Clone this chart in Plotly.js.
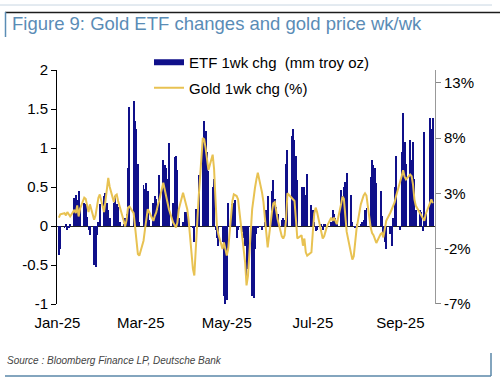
<!DOCTYPE html>
<html>
<head>
<meta charset="utf-8">
<script src="https://cdn.plot.ly/plotly-3.0.1.min.js"></script>
<style>html,body{margin:0;padding:0;background:#fff;}#chart{width:500px;height:385px;}</style>
</head>
<body>
<div id="chart"></div>
<script>
// Trading days (x values)
const dates = [
"2025-01-02","2025-01-03","2025-01-06","2025-01-07","2025-01-08","2025-01-09","2025-01-10","2025-01-13","2025-01-14","2025-01-15","2025-01-16","2025-01-17","2025-01-20","2025-01-21","2025-01-22","2025-01-23","2025-01-24","2025-01-27","2025-01-28","2025-01-29","2025-01-30","2025-01-31",
"2025-02-03","2025-02-04","2025-02-05","2025-02-06","2025-02-07","2025-02-10","2025-02-11","2025-02-12","2025-02-13","2025-02-14","2025-02-17","2025-02-18","2025-02-19","2025-02-20","2025-02-21","2025-02-24","2025-02-25","2025-02-26","2025-02-27","2025-02-28",
"2025-03-03","2025-03-04","2025-03-05","2025-03-06","2025-03-07","2025-03-10","2025-03-11","2025-03-12","2025-03-13","2025-03-14","2025-03-17","2025-03-18","2025-03-19","2025-03-20","2025-03-21","2025-03-24","2025-03-25","2025-03-26","2025-03-27","2025-03-28","2025-03-31",
"2025-04-01","2025-04-02","2025-04-03","2025-04-04","2025-04-07","2025-04-08","2025-04-09","2025-04-10","2025-04-11","2025-04-14","2025-04-15","2025-04-16","2025-04-17","2025-04-18","2025-04-21","2025-04-22","2025-04-23","2025-04-24","2025-04-25","2025-04-28","2025-04-29","2025-04-30",
"2025-05-01","2025-05-02","2025-05-05","2025-05-06","2025-05-07","2025-05-08","2025-05-09","2025-05-12","2025-05-13","2025-05-14","2025-05-15","2025-05-16","2025-05-19","2025-05-20","2025-05-21","2025-05-22","2025-05-23","2025-05-26","2025-05-27","2025-05-28","2025-05-29","2025-05-30",
"2025-06-02","2025-06-03","2025-06-04","2025-06-05","2025-06-06","2025-06-09","2025-06-10","2025-06-11","2025-06-12","2025-06-13","2025-06-16","2025-06-17","2025-06-18","2025-06-19","2025-06-20","2025-06-23","2025-06-24","2025-06-25","2025-06-26","2025-06-27","2025-06-30",
"2025-07-01","2025-07-02","2025-07-03","2025-07-04","2025-07-07","2025-07-08","2025-07-09","2025-07-10","2025-07-11","2025-07-14","2025-07-15","2025-07-16","2025-07-17","2025-07-18","2025-07-21","2025-07-22","2025-07-23","2025-07-24","2025-07-25","2025-07-28","2025-07-29","2025-07-30","2025-07-31",
"2025-08-01","2025-08-04","2025-08-05","2025-08-06","2025-08-07","2025-08-08","2025-08-11","2025-08-12","2025-08-13","2025-08-14","2025-08-15","2025-08-18","2025-08-19","2025-08-20","2025-08-21","2025-08-22","2025-08-25","2025-08-26","2025-08-27","2025-08-28","2025-08-29",
"2025-09-01","2025-09-02","2025-09-03","2025-09-04","2025-09-05","2025-09-08","2025-09-09","2025-09-10","2025-09-11","2025-09-12","2025-09-15","2025-09-16","2025-09-17","2025-09-18","2025-09-19","2025-09-22","2025-09-23","2025-09-24"
];

// ETF 1wk change (mm troy oz), left axis
const etfChg = [
-0.37,-0.30,-0.02,0.02,-0.05,-0.03,0.03,0.36,0.40,0.33,0.45,0.25,0.30,0.28,0.12,-0.05,-0.12,-0.50,-0.53,-0.12,0.05,0.28,
0.38,0.42,0.30,0.20,0.10,0.30,0.38,0.28,0.25,0.05,0.03,0.10,0.15,0.74,1.53,1.60,1.35,1.25,0.80,0.05,
0.52,0.48,0.55,0.45,0.08,0.30,0.38,0.35,0.20,0.65,0.85,0.78,0.75,0.60,1.07,0.30,0.88,0.90,0.72,0.10,0.05,
0.18,0.18,0.15,0.00,-0.02,-0.20,0.22,0.05,0.65,1.10,1.35,1.22,0.95,0.70,0.50,0.60,-0.05,-0.15,-0.25,-0.20,-0.90,-1.00,
-0.95,0.30,0.28,0.30,0.33,-0.15,-0.05,-0.08,-0.15,-0.25,-0.75,-0.55,-0.90,-0.92,-0.30,-0.10,-0.03,-0.05,0.00,0.05,0.20,0.38,
0.45,0.59,0.35,0.25,0.15,0.08,0.10,0.08,0.80,0.97,1.15,1.25,1.10,0.90,0.59,0.50,0.45,0.50,0.40,0.67,0.27,
0.20,0.05,-0.07,-0.05,0.02,-0.05,0.02,0.03,0.00,0.05,0.20,0.15,0.10,0.02,0.46,0.38,0.50,0.57,0.68,0.40,0.05,0.00,-0.02,
0.02,0.03,0.05,0.08,0.20,0.23,0.63,0.85,0.78,0.75,0.55,0.45,0.13,-0.10,-0.20,-0.30,-0.10,-0.25,0.10,0.50,0.90,
-0.05,0.95,1.45,1.08,0.80,1.10,0.85,1.08,0.60,0.20,0.20,0.18,-0.07,1.20,0.15,1.38,1.25,1.38
];

// Gold 1wk change (%), right axis
const goldChg = [
0.8,1.1,1.2,1.0,1.3,1.1,0.9,1.5,1.2,1.9,0.9,1.6,2.6,2.5,2.0,1.3,2.0,0.6,1.0,1.7,2.6,2.9,
1.3,2.3,3.4,4.4,3.6,2.2,2.8,2.9,2.3,1.9,0.5,0.0,0.6,1.7,1.8,1.2,-0.3,-1.4,-2.5,-2.65,
-1.3,-0.3,0.5,1.56,1.3,0.5,0.96,1.26,1.86,2.3,3.96,3.36,2.6,2.15,1.56,0.35,0.05,-0.1,0.35,1.56,3.06,
2.6,2.15,1.56,0.5,-3.85,-4.45,-2.05,-0.25,2.5,8.0,7.9,7.1,5.9,5.1,6.5,5.2,2.45,0.05,-0.7,-2.05,-1.45,-2.05,
-2.65,-2.05,2.3,2.9,2.8,2.75,2.45,-0.9,-1.9,-3.25,-5.35,-4.5,1.56,2.75,3.5,4.26,4.86,3.06,2.2,0.8,-0.6,-1.9,
1.3,2.1,2.2,1.4,0.66,-0.9,-1.1,-0.8,0.6,3.0,2.6,2.45,2.3,0.66,-1.1,-0.8,-1.75,-1.1,-2.35,-2.65,-2.35,
-0.5,1.15,1.7,1.3,-0.5,-1.1,-0.9,-0.5,0.0,0.8,0.5,0.8,0.5,0.2,2.0,2.7,2.5,1.0,-0.5,-2.4,-3.0,-2.7,-1.6,
-0.2,2.0,2.5,2.8,3.0,2.8,-0.1,-0.6,-0.8,-1.1,-1.5,-0.7,-0.6,-1.0,-0.25,0.5,1.26,1.56,1.86,2.2,2.75,
4.0,4.56,5.1,4.5,4.26,4.7,4.55,3.8,2.45,1.86,1.2,1.0,0.8,0.5,1.1,2.15,2.45,2.1
];

// Axis ticks
const leftTickVals = [-1,-0.5,0,0.5,1,1.5,2];
const leftTickText = ["-1","-0.5","0","0.5","1","1.5","2"];
const rightTickVals = [-7,-2,3,8,13];
const rightTickText = ["-7%","-2%","3%","8%","13%"];
const xTickVals = ["2025-01-01","2025-03-01","2025-05-01","2025-07-01","2025-09-01"];
const xTickText = ["Jan-25","Mar-25","May-25","Jul-25","Sep-25"];

const titleText = "Figure 9: Gold ETF changes and gold price wk/wk";
const sourceText = "Source : Bloomberg Finance LP, Deutsche Bank";
const etfName = "ETF 1wk chg \u00a0(mm troy oz)";
const goldName = "Gold 1wk chg (%)";

// ---- styling / layout ----
const W = 500, H = 385;
const M = {l:57, r:65, t:70, b:81};
const PW = W - M.l - M.r, PH = H - M.t - M.b;
const xp = px => (px - M.l) / PW;
const yp = py => (H - M.b - py) / PH;

const NAVY = "#10108a";
const GOLD = "#e8c252";
const FONT = "Liberation Sans, Arial, Helvetica, sans-serif";

const traces = [
  {
    type: "bar", x: dates, y: etfChg, name: etfName,
    marker: {color: NAVY, line: {width: 0}},
    width: 86400000 * 1.35,
    showlegend: false, legendgroup: "etf", hoverinfo: "x+y"
  },
  {
    // legend key for the ETF bars (wide bar-style swatch)
    type: "scatter", mode: "lines", x: [null], y: [null], name: etfName,
    line: {color: NAVY, width: 6}, legendgroup: "etf", showlegend: true, hoverinfo: "skip"
  },
  {
    type: "scatter", mode: "lines", x: dates, y: goldChg, name: goldName,
    yaxis: "y2", line: {color: GOLD, width: 2},
    legendgroup: "gold", showlegend: true
  }
];

const shapes = [
  {type:"line", xref:"paper", yref:"paper", x0:xp(0), x1:xp(492), y0:yp(5), y1:yp(5), line:{color:"#c8d6e2", width:1}},
  {type:"line", xref:"paper", yref:"paper", x0:xp(5), x1:xp(500), y0:yp(12.5), y1:yp(12.5), line:{color:"#1c1c1c", width:1.5}},
  {type:"line", xref:"paper", yref:"paper", x0:xp(5.5), x1:xp(5.5), y0:yp(12), y1:yp(37), line:{color:"#5b8db5", width:1.5}},
  {type:"line", xref:"paper", yref:"paper", x0:xp(491), x1:xp(491), y0:yp(353), y1:yp(376), line:{color:"#5a87a8", width:1.5}},
  {type:"line", xref:"paper", yref:"paper", x0:xp(5), x1:xp(491), y0:yp(376), y1:yp(376), line:{color:"#5a87a8", width:1.5}}
];

const layout = {
  width: W, height: H,
  margin: M,
  paper_bgcolor: "#ffffff", plot_bgcolor: "#ffffff",
  font: {family: FONT, size: 15, color: "#000"},
  title: {
    text: titleText,
    font: {family: FONT, size: 18.5, color: "#5a8cb6"},
    xref: "container", yref: "container",
    x: 12 / W, xanchor: "left",
    y: 1 - 24 / H, yanchor: "middle"
  },
  bargap: 0,
  showlegend: true,
  legend: {
    x: xp(149), xanchor: "left",
    y: yp(46), yanchor: "top",
    bgcolor: "rgba(0,0,0,0)",
    font: {family: FONT, size: 15, color: "#000"},
    traceorder: "grouped",
    tracegroupgap: 3,
    itemwidth: 30
  },
  xaxis: {
    type: "date",
    range: ["2024-12-31T16:00", "2025-09-25T14:00"],
    tickmode: "array", tickvals: xTickVals, ticktext: xTickText,
    ticks: "outside", ticklen: 5, tickcolor: "rgba(0,0,0,0)",
    showline: false, showgrid: false, zeroline: false,
    tickfont: {family: FONT, size: 15, color: "#000"}
  },
  yaxis: {
    range: [-1, 2],
    tickmode: "array", tickvals: leftTickVals, ticktext: leftTickText,
    ticks: "outside", ticklen: 5, tickcolor: "#000", tickwidth: 1,
    showline: true, linecolor: "#000", linewidth: 1,
    showgrid: false,
    zeroline: true, zerolinecolor: "#222", zerolinewidth: 1,
    tickfont: {family: FONT, size: 15, color: "#000"}
  },
  yaxis2: {
    overlaying: "y", side: "right",
    range: [-7.03, 14.17],
    tickmode: "array", tickvals: rightTickVals, ticktext: rightTickText,
    ticks: "outside", ticklen: 5, tickcolor: "#888", tickwidth: 1,
    showline: true, linecolor: "#999", linewidth: 1,
    showgrid: false, zeroline: false,
    tickfont: {family: FONT, size: 15, color: "#000"}
  },
  shapes: shapes,
  annotations: [
    {
      text: "<i>" + sourceText + "</i>",
      xref: "paper", yref: "paper",
      x: xp(5), xanchor: "left",
      y: yp(360), yanchor: "middle",
      showarrow: false,
      font: {family: FONT, size: 10, color: "#444"}
    }
  ]
};

Plotly.newPlot("chart", traces, layout, {displayModeBar: false, staticPlot: true});
</script>
</body>
</html>
